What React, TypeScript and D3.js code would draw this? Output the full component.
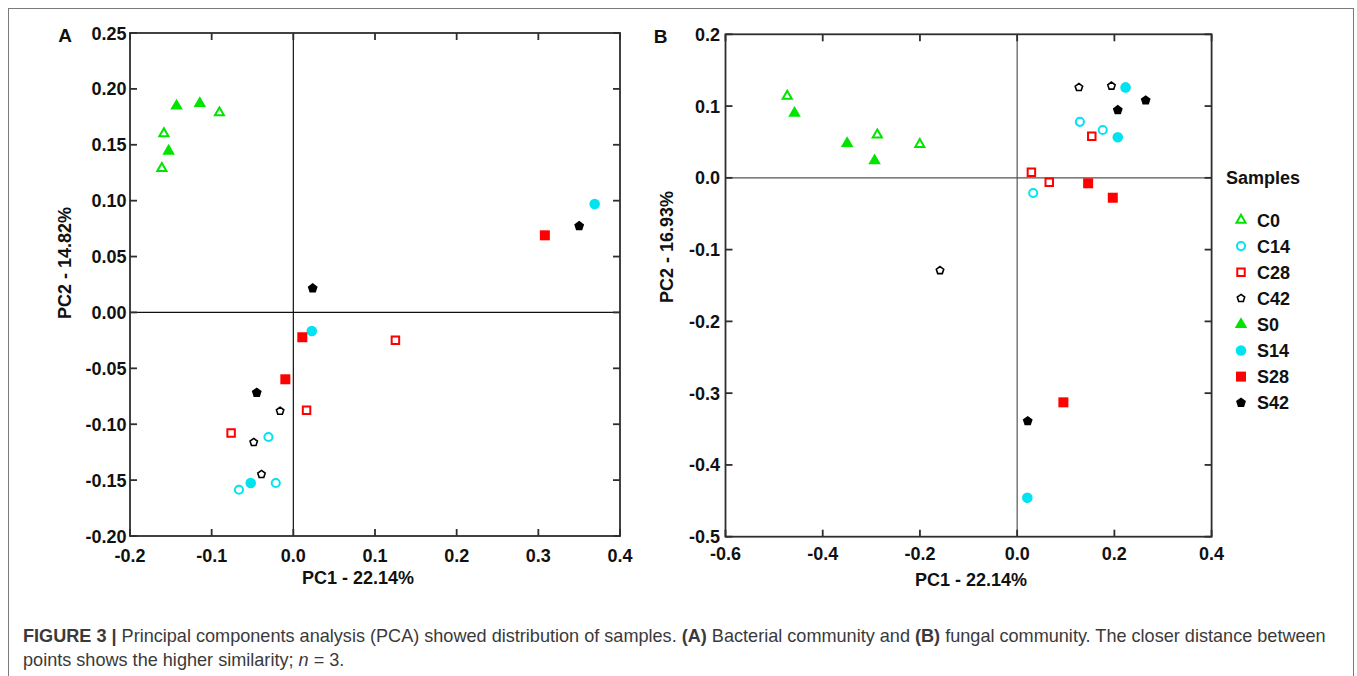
import React from "react";
import * as d3 from "d3";

// sample groups, shared by both panels
const groups = ["C0", "C14", "C28", "C42", "S0", "S14", "S28", "S42"];
const groupColors = ["#00e400", "#00e4f2", "#ff0000", "#000000", "#00e400", "#00e4f2", "#ff0000", "#000000"];
const groupShapes = ["triangle", "circle", "square", "pentagon", "triangle", "circle", "square", "pentagon"];
const groupFilled = [false, false, false, false, true, true, true, true];

// panel A - bacterial community (PC1, PC2)
const aC0 = [[-0.0905, 0.1787], [-0.1585, 0.16], [-0.161, 0.129]];
const aC14 = [[-0.0305, -0.1114], [-0.0215, -0.1526], [-0.0666, -0.1586]];
const aC28 = [[0.125, -0.0249], [0.0162, -0.0875], [-0.0762, -0.1078]];
const aC42 = [[-0.0162, -0.0882], [-0.0485, -0.1162], [-0.039, -0.1448]];
const aS0 = [[-0.143, 0.1847], [-0.1145, 0.187], [-0.1527, 0.1444]];
const aS14 = [[0.369, 0.097], [0.0226, -0.0166], [-0.0522, -0.1526]];
const aS28 = [[0.308, 0.069], [0.011, -0.0222], [-0.0098, -0.0598]];
const aS42 = [[0.0237, 0.0216], [0.35, 0.0773], [-0.0448, -0.0718]];

// panel B - fungal community (PC1, PC2)
const bC0 = [[-0.473, 0.114], [-0.2877, 0.06], [-0.2003, 0.0467]];
const bC14 = [[0.129, 0.078], [0.176, 0.0667], [0.033, -0.0211]];
const bC28 = [[0.1535, 0.058], [0.0293, 0.0077], [0.066, -0.0062]];
const bC42 = [[0.127, 0.126], [0.194, 0.128], [-0.1587, -0.129]];
const bS0 = [[-0.458, 0.09], [-0.3498, 0.048], [-0.2933, 0.0239]];
const bS14 = [[0.223, 0.126], [0.207, 0.0565], [0.0209, -0.4457]];
const bS28 = [[0.146, -0.0076], [0.1967, -0.0277], [0.0951, -0.3128]];
const bS42 = [[0.2644, 0.108], [0.207, 0.0945], [0.0217, -0.339]];

// ticks
const aXTicks = [-0.2, -0.1, 0, 0.1, 0.2, 0.3, 0.4];
const aXTickLabels = ["-0.2", "-0.1", "0.0", "0.1", "0.2", "0.3", "0.4"];
const aYTicks = [0.25, 0.2, 0.15, 0.1, 0.05, 0, -0.05, -0.1, -0.15, -0.2];
const aYTickLabels = ["0.25", "0.20", "0.15", "0.10", "0.05", "0.00", "-0.05", "-0.10", "-0.15", "-0.20"];
const bXTicks = [-0.6, -0.4, -0.2, 0, 0.2, 0.4];
const bXTickLabels = ["-0.6", "-0.4", "-0.2", "0.0", "0.2", "0.4"];
const bYTicks = [0.2, 0.1, 0, -0.1, -0.2, -0.3, -0.4, -0.5];
const bYTickLabels = ["0.2", "0.1", "0.0", "-0.1", "-0.2", "-0.3", "-0.4", "-0.5"];

const FONT = "'Liberation Sans', Arial, sans-serif";

const symbolPentagon = {
  draw(ctx: any, size: number) {
    const r = Math.sqrt(size / (2.5 * Math.sin((2 * Math.PI) / 5)));
    for (let i = 0; i < 5; i++) {
      const a = -Math.PI / 2 + (i * 2 * Math.PI) / 5;
      const x = r * Math.cos(a);
      const y = r * Math.sin(a);
      if (i === 0) ctx.moveTo(x, y);
      else ctx.lineTo(x, y);
    }
    ctx.closePath();
  },
};

const shapeType: any = {
  triangle: d3.symbolTriangle,
  circle: d3.symbolCircle,
  square: d3.symbolSquare,
  pentagon: symbolPentagon,
};
// marker areas, filled / open
const filledSize: any = { triangle: 68, circle: 88, square: 100, pentagon: 64 };
const openSize: any = { triangle: 36, circle: 52, square: 56, pentagon: 36 };

const markerPath = (i: number) => {
  const s = groupShapes[i];
  return d3.symbol().type(shapeType[s]).size(groupFilled[i] ? filledSize[s] : openSize[s])()!;
};

const Marker = ({ i, x, y }: { i: number; x: number; y: number }) => (
  <path
    d={markerPath(i)}
    transform={`translate(${x},${y})`}
    fill={groupFilled[i] ? groupColors[i] : "none"}
    stroke={groupFilled[i] ? "none" : groupColors[i]}
    strokeWidth={groupShapes[i] === "pentagon" ? 1.6 : 2}
  />
);

type PanelProps = {
  letter: string;
  left: number;
  right: number;
  top: number;
  bottom: number;
  xDomain: [number, number];
  yDomain: [number, number];
  xTicks: number[];
  xTickLabels: string[];
  yTicks: number[];
  yTickLabels: string[];
  series: number[][][];
  xTitle: string;
  yTitle: string;
  xTitlePos: [number, number];
  yTitlePos: [number, number];
  xLabelOffset: number;
  yLabelOffset: number;
  zeroColor: string;
};

const Panel = (p: PanelProps) => {
  const x = d3.scaleLinear().domain(p.xDomain).range([p.left, p.right]);
  const y = d3.scaleLinear().domain(p.yDomain).range([p.bottom, p.top]);
  const tk = 7;
  const axisColor = "#2e2e2e";
  return (
    <g fontFamily={FONT} fontWeight="bold">
      {/* zero lines */}
      <line x1={x(0)} x2={x(0)} y1={p.top} y2={p.bottom} stroke={p.zeroColor} strokeWidth={1.2} />
      <line x1={p.left} x2={p.right} y1={y(0)} y2={y(0)} stroke={p.zeroColor} strokeWidth={1.2} />
      {/* frame */}
      <rect x={p.left} y={p.top} width={p.right - p.left} height={p.bottom - p.top} fill="none" stroke={axisColor} strokeWidth={1.8} />
      {p.xTicks.map((t, i) => (
        <g key={"x" + i}>
          <line x1={x(t)} x2={x(t)} y1={p.bottom} y2={p.bottom - tk} stroke={axisColor} strokeWidth={1.8} />
          <line x1={x(t)} x2={x(t)} y1={p.top} y2={p.top + tk} stroke={axisColor} strokeWidth={1.8} />
          <text x={x(t)} y={p.bottom + p.xLabelOffset} textAnchor="middle" fontSize={18} fill="#111">
            {p.xTickLabels[i]}
          </text>
        </g>
      ))}
      {p.yTicks.map((t, i) => (
        <g key={"y" + i}>
          <line x1={p.left} x2={p.left + tk} y1={y(t)} y2={y(t)} stroke={axisColor} strokeWidth={1.8} />
          <line x1={p.right} x2={p.right - tk} y1={y(t)} y2={y(t)} stroke={axisColor} strokeWidth={1.8} />
          <text x={p.left - p.yLabelOffset} y={y(t) + 6.5} textAnchor="end" fontSize={18} fill="#111">
            {p.yTickLabels[i]}
          </text>
        </g>
      ))}
      <text x={p.xTitlePos[0]} y={p.xTitlePos[1]} textAnchor="middle" fontSize={18} fill="#111">
        {p.xTitle}
      </text>
      <text
        transform={`translate(${p.yTitlePos[0]},${p.yTitlePos[1]}) rotate(-90)`}
        textAnchor="middle"
        dy="0.35em"
        fontSize={18}
        fill="#111"
      >
        {p.yTitle}
      </text>
      <text x={p.left - 65} y={p.top + 9} textAnchor="middle" fontSize={19} fill="#111">
        {p.letter}
      </text>
      {p.series.map((pts, gi) =>
        pts.map((d, j) => <Marker key={gi + "-" + j} i={gi} x={x(d[0])} y={y(d[1])} />)
      )}
    </g>
  );
};

export default function App() {
  const legendTop = 220;
  const legendStep = 26.1;
  return (
    <svg width={1357} height={676} style={{ position: "absolute", left: 0, top: 0, background: "#fff" }}>
      <rect x={8.5} y={8.5} width={1345} height={720} fill="none" stroke="#7a7a7a" strokeWidth={1} />
      <Panel
        letter="A"
        left={130}
        right={620}
        top={33}
        bottom={536}
        xDomain={[-0.2, 0.4]}
        yDomain={[-0.2, 0.25]}
        xTicks={aXTicks}
        xTickLabels={aXTickLabels}
        yTicks={aYTicks}
        yTickLabels={aYTickLabels}
        series={[aC0, aC14, aC28, aC42, aS0, aS14, aS28, aS42]}
        xTitle="PC1 - 22.14%"
        yTitle="PC2 - 14.82%"
        xTitlePos={[358, 584]}
        yTitlePos={[65, 263]}
        xLabelOffset={26}
        yLabelOffset={3.5}
        zeroColor="#111"
      />
      <Panel
        letter="B"
        left={725.5}
        right={1211.6}
        top={34.3}
        bottom={536.7}
        xDomain={[-0.6, 0.4]}
        yDomain={[-0.5, 0.2]}
        xTicks={bXTicks}
        xTickLabels={bXTickLabels}
        yTicks={bYTicks}
        yTickLabels={bYTickLabels}
        series={[bC0, bC14, bC28, bC42, bS0, bS14, bS28, bS42]}
        xTitle="PC1 - 22.14%"
        yTitle="PC2 - 16.93%"
        xTitlePos={[971, 586]}
        yTitlePos={[667, 247]}
        xLabelOffset={23}
        yLabelOffset={5.5}
        zeroColor="#555"
      />
      {/* legend */}
      <g fontFamily={FONT} fontWeight="bold" fontSize={18} fill="#111">
        <text x={1226} y={184}>Samples</text>
        {groups.map((g, i) => (
          <g key={g}>
            <Marker i={i} x={1241} y={legendTop + i * legendStep} />
            <text x={1257} y={legendTop + i * legendStep + 6.5}>{g}</text>
          </g>
        ))}
      </g>
      {/* caption */}
      <g fontFamily={FONT} fontSize={18.1} fill="#3a3a3a">
        <text x={23} y={642}>
          <tspan fontWeight="bold">FIGURE 3 | </tspan>
          <tspan>Principal components analysis (PCA) showed distribution of samples. </tspan>
          <tspan fontWeight="bold">(A)</tspan>
          <tspan> Bacterial community and </tspan>
          <tspan fontWeight="bold">(B)</tspan>
          <tspan> fungal community. The closer distance between</tspan>
        </text>
        <text x={23} y={666}>
          <tspan>points shows the higher similarity; </tspan>
          <tspan fontStyle="italic">n</tspan>
          <tspan> = 3.</tspan>
        </text>
      </g>
    </svg>
  );
}
